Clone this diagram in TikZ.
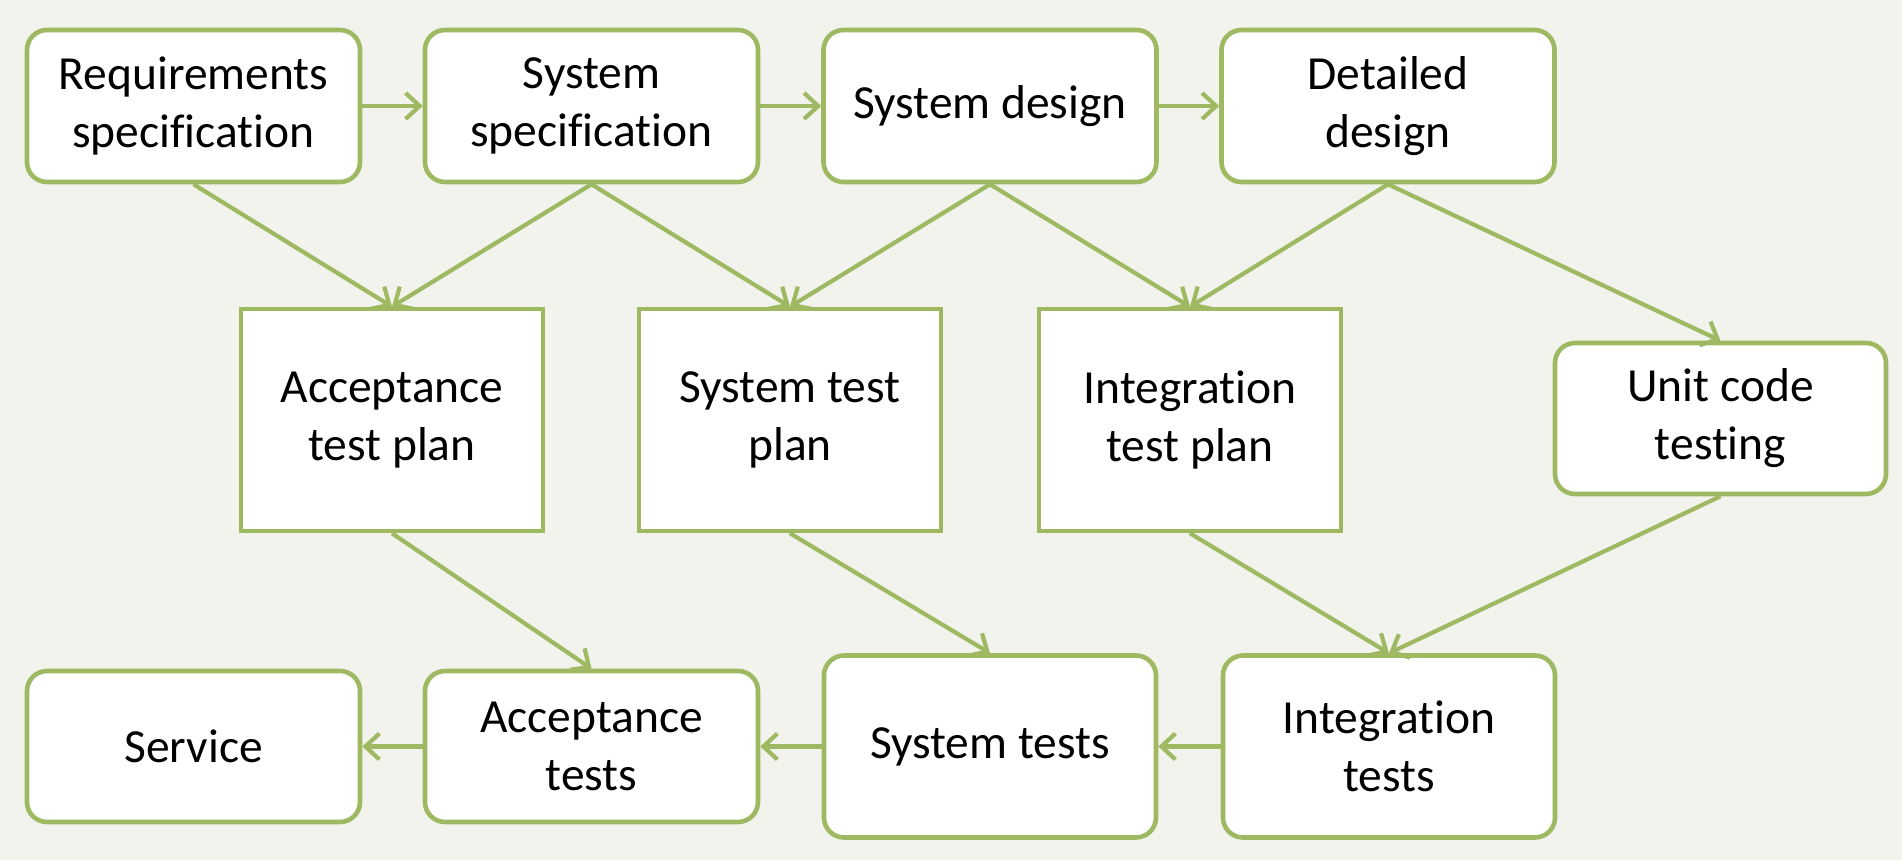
\documentclass[tikz,border=0pt]{standalone}
\usepackage{fontspec}
\setmainfont[RawFeature={-liga;-clig}]{Carlito}
\usetikzlibrary{arrows.meta}
\definecolor{olive}{RGB}{158,185,98}
\definecolor{bgc}{RGB}{242,243,237}
\tikzset{
  rbox/.style={draw=olive, line width=2.3pt, fill=white, rounded corners=10pt,
    align=center, inner sep=0pt, font=\fontsize{23.75}{29}\selectfont},
  sbox/.style={draw=olive, line width=2.3pt, fill=white,
    align=center, inner sep=0pt, font=\fontsize{23.75}{29}\selectfont},
  arr/.style={draw=olive, line width=2.1pt, -{Straight Barb[length=7pt,width=13pt,line width=2.1pt]}},
}
\begin{document}
\begin{tikzpicture}[x=0.5pt,y=-0.5pt]
\fill[bgc] (0,0) rectangle (1902,860);
\useasboundingbox (0,0) rectangle (1902,860);
% top row
\node[rbox, minimum width=166.5pt, minimum height=76pt] (req) at (193.5,106) {Requirements\\specification};
\node[rbox, minimum width=166.5pt, minimum height=76pt] (sspec) at (591.5,106) {System\\specification};
\node[rbox, minimum width=166.5pt, minimum height=76pt] (sdes) at (990,106) {System design};
\node[rbox, minimum width=166.5pt, minimum height=76pt] (ddes) at (1388,106) {Detailed\\design};
% middle row
\node[sbox, minimum width=151pt, minimum height=111pt] (atp) at (392,420) {Acceptance\\test plan};
\node[sbox, minimum width=151pt, minimum height=111pt] (stp) at (790,420) {System test\\plan};
\node[sbox, minimum width=151pt, minimum height=111pt] (itp) at (1190,420) {Integration\\test plan};
\node[rbox, minimum width=165.5pt, minimum height=75.5pt] (unit) at (1720.5,418.5) {Unit code\\testing};
% bottom row
\node[rbox, minimum width=166.5pt, minimum height=75.5pt] (serv) at (193.5,746.5) {Service};
\node[rbox, minimum width=166.5pt, minimum height=75.5pt] (at) at (591.5,746.5) {Acceptance\\tests};
\node[rbox, minimum width=166pt, minimum height=91pt] (st) at (990,746.5) {System tests};
\node[rbox, minimum width=166pt, minimum height=91pt] (it) at (1389,746.5) {Integration\\tests};
% horizontal arrows
\draw[arr] (req) -- (sspec);
\draw[arr] (sspec) -- (sdes);
\draw[arr] (sdes) -- (ddes);
\draw[arr] (it) -- (st);
\draw[arr] (st) -- (at);
\draw[arr] (at) -- (serv);
% diagonals
\draw[arr] (req.south) -- (atp.north);
\draw[arr] (sspec.south) -- (atp.north);
\draw[arr] (sspec.south) -- (stp.north);
\draw[arr] (sdes.south) -- (stp.north);
\draw[arr] (sdes.south) -- (itp.north);
\draw[arr] (ddes.south) -- (itp.north);
\draw[arr] (ddes.south) -- (unit.north);
\draw[arr] (atp.south) -- (at.north);
\draw[arr] (stp.south) -- (st.north);
\draw[arr] (itp.south) -- (it.north);
\draw[arr] (unit.south) -- (it.north);
\end{tikzpicture}
\end{document}
